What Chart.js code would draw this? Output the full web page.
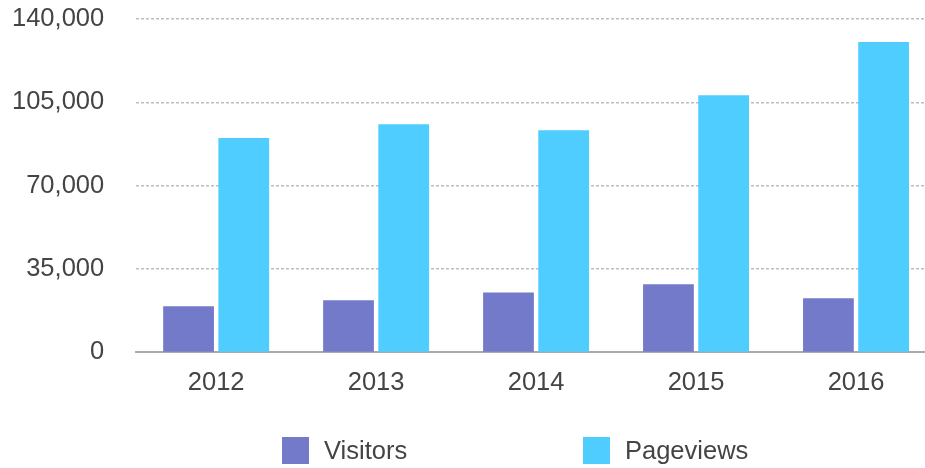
<!DOCTYPE html>
<html>
<head>
<meta charset="utf-8">
<script src="https://cdn.jsdelivr.net/npm/chart.js@4.4.0/dist/chart.umd.min.js"></script>
<style>
  html, body { margin: 0; padding: 0; background: #fff; }
  #wrap { position: relative; width: 925px; height: 468px; overflow: hidden; }
  #legend {
    position: absolute; left: 282px; top: 436px;
    display: flex; align-items: center;
    font-family: "Helvetica Neue", Helvetica, "Liberation Sans", Arial, sans-serif;
    font-size: 25.5px; color: #444;
  }
  .item { display: flex; align-items: center; }
  .item:first-child { width: 301px; }
  .swatch { width: 27px; height: 27px; margin-right: 15px; }
</style>
</head>
<body>
<div id="wrap">
  <canvas id="chart" width="936" height="468"></canvas>
  <div id="legend"></div>
</div>
<script>
// 年份
const years = ["2012", "2013", "2014", "2015", "2016"]
// 访客 / 浏览量
const visitors = [19400, 21900, 25200, 28600, 22700]
const pageviews = [90000, 95800, 93300, 108000, 130300]
const seriesNames = ["Visitors", "Pageviews"]
const seriesColors = ["#737ac9", "#4fcdff"]
// y 轴刻度
const yTicks = [0, 35000, 70000, 105000, 140000]

const fontFamily = '"Helvetica Neue", Helvetica, "Liberation Sans", Arial, sans-serif'
const textColor = "#444"

const datasets = [visitors, pageviews].map((data, i) => ({
  label: seriesNames[i],
  data: data,
  backgroundColor: seriesColors[i],
  borderWidth: 0,
  categoryPercentage: 0.69,
  barPercentage: 0.92
}))

// 自定义图例（HTML）
const legendEl = document.getElementById("legend")
datasets.forEach((ds) => {
  const item = document.createElement("div")
  item.className = "item"
  const sw = document.createElement("span")
  sw.className = "swatch"
  sw.style.background = ds.backgroundColor
  const txt = document.createElement("span")
  txt.textContent = ds.label
  item.appendChild(sw)
  item.appendChild(txt)
  legendEl.appendChild(item)
})

new Chart(document.getElementById("chart"), {
  type: "bar",
  data: { labels: years, datasets: datasets },
  options: {
    responsive: false,
    animation: false,
    layout: { padding: { left: 12, right: 0, top: 19, bottom: 63 } },
    plugins: {
      legend: { display: false },
      tooltip: { enabled: false }
    },
    scales: {
      x: {
        grid: { display: false },
        border: { display: true, color: "#aaaaaa", width: 2 },
        ticks: {
          color: textColor,
          padding: 7,
          font: { family: fontFamily, size: 25.5 }
        }
      },
      y: {
        min: yTicks[0],
        max: yTicks[yTicks.length - 1],
        afterBuildTicks: (axis) => {
          axis.ticks = yTicks.map((v) => ({ value: v }))
        },
        border: { display: false, dash: [3, 2] },
        grid: {
          drawTicks: true,
          tickLength: 32,
          tickColor: "rgba(0,0,0,0)",
          color: (ctx) => ctx.tick && ctx.tick.value === 0 ? "rgba(0,0,0,0)" : "#bdbdbd",
          lineWidth: 1.5
        },
        ticks: {
          color: textColor,
          padding: 0,
          font: { family: fontFamily, size: 25.5 },
          callback: (value) => value.toLocaleString("en-US")
        }
      }
    }
  }
})
</script>
</body>
</html>
